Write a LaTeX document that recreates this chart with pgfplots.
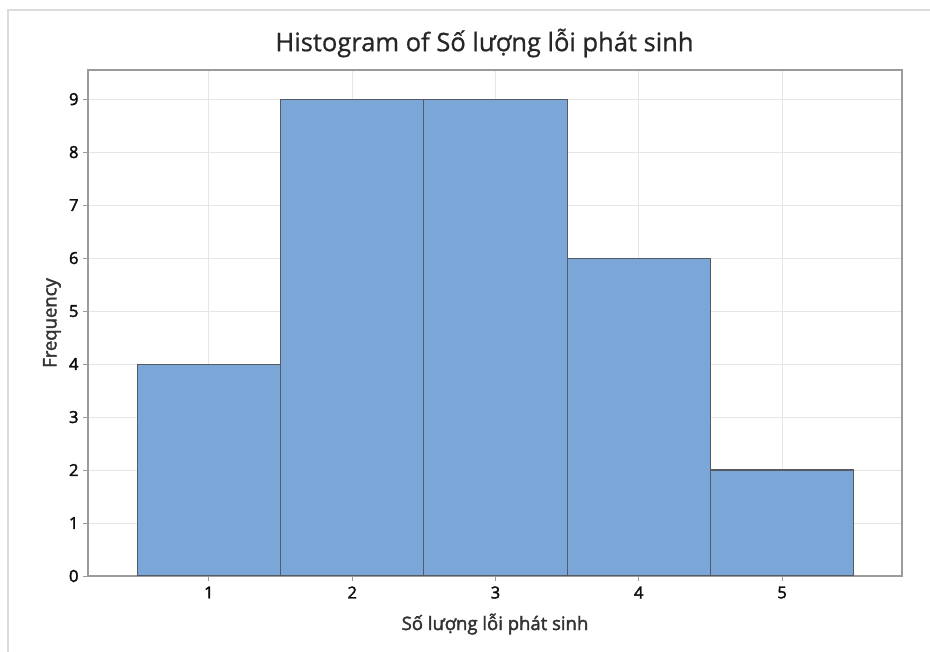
\documentclass[border=0pt]{standalone}
\usepackage{pgfplots}
\pgfplotsset{compat=1.18}
\usepackage{fontspec}
\setmainfont{Open Sans}
\newfontfamily\medfont[FakeBold=2.2]{Open Sans}
\newfontfamily\titlefont[FakeBold=0.8]{Open Sans}
\definecolor{barfill}{RGB}{123,166,216}
\definecolor{baredge}{RGB}{85,90,98}
\definecolor{axgray}{RGB}{155,155,155}
\definecolor{gridgray}{RGB}{230,230,230}
\definecolor{framegray}{RGB}{220,220,220}
\begin{document}
\begin{tikzpicture}[x=1pt,y=1pt]
\path[use as bounding box] (0,0) rectangle (930,652);
\draw[framegray, line width=1.2pt] (8,0) -- (8,642) -- (930,642);
\node[font=\titlefont\fontsize{25.5}{30}\selectfont, text=black!85] at (484.5,609) {Histogram of Số lượng lỗi phát sinh};
\begin{axis}[
  at={(88pt,76pt)}, anchor=south west,
  scale only axis, width=814pt, height=506pt,
  xmin=0.156, xmax=5.837, ymin=0, ymax=9.55,
  xtick={1,2,3,4,5}, ytick={0,1,...,9},
  xtick pos=bottom, ytick pos=left,
  tick align=outside, tick style={axgray, line width=0.9pt},
  major tick length=5pt,
  axis line style={axgray, line width=1.1pt},
  grid=major, major grid style={gridgray, line width=0.9pt},
  tick label style={font=\medfont\fontsize{16.5}{19}\selectfont, text=black!95},
  /pgf/number format/assume math mode=true,
  xlabel={Số lượng lỗi phát sinh}, ylabel={Frequency},
  label style={font=\medfont\fontsize{18.5}{22}\selectfont, text=black!80},
  xlabel style={at={(axis description cs:0.5,-0.095)}, anchor=center},
  ylabel style={at={(axis description cs:-0.0442,0.5)}, anchor=center},
  xticklabel style={yshift=-2pt},
  yticklabel style={xshift=-1pt},
]
\addplot[ybar interval, fill=barfill, draw=baredge, line width=1.1pt]
  coordinates {(0.5,4) (1.5,9) (2.5,9) (3.5,6) (4.5,2) (5.5,2)};
\end{axis}
\end{tikzpicture}
\end{document}
